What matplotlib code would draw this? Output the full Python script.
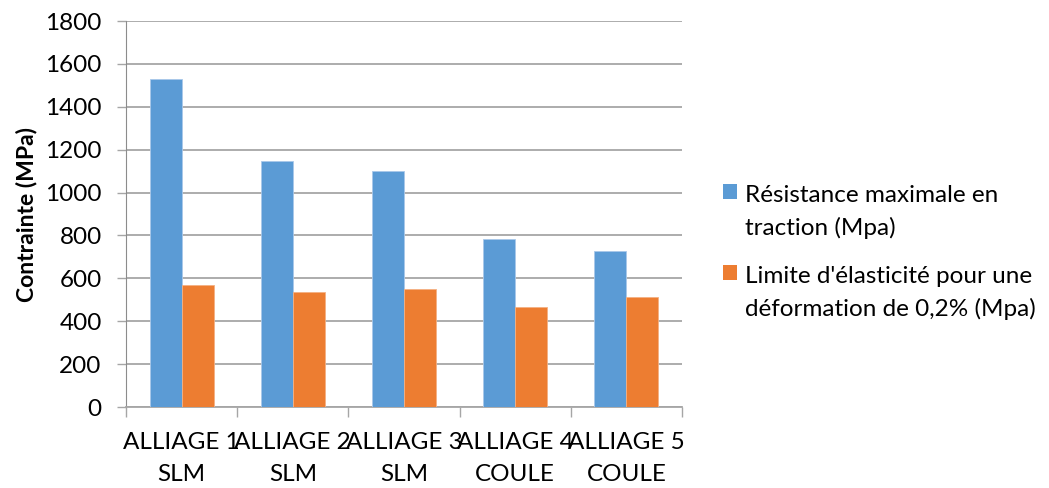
import matplotlib
matplotlib.use("Agg")
import matplotlib.pyplot as plt
import numpy as np
from matplotlib.patches import Patch, Rectangle
from matplotlib.legend_handler import HandlerPatch

categories = ["ALLIAGE 1\nSLM", "ALLIAGE 2\nSLM", "ALLIAGE 3\nSLM", "ALLIAGE 4\nCOULE", "ALLIAGE 5\nCOULE"]
resistance = [1531, 1146, 1099, 782, 727]
limite = [569, 536, 549, 465, 515]
series_labels = ["Résistance maximale en\ntraction (Mpa)",
                 "Limite d'élasticité pour une\ndéformation de 0,2% (Mpa)"]
y_ticks = [0, 200, 400, 600, 800, 1000, 1200, 1400, 1600, 1800]

plt.rcParams['font.family'] = ['Lato', 'DejaVu Sans']
FS = 17.5

fig = plt.figure(figsize=(10.49, 4.88), dpi=100)
ax = fig.add_axes([126/1049, 1-407/488, (682-126)/1049, (407-21)/488])

x = np.arange(len(categories))
w = 0.288
blue = "#5B9BD5"
orange = "#ED7D31"
ax.bar(x - w/2, resistance, w, color=blue, edgecolor="#A9C8EA", linewidth=0.6, zorder=3)
ax.bar(x + w/2, limite, w, color=orange, edgecolor="#F4B183", linewidth=0.6, zorder=3)

ax.set_xlim(-0.5, len(categories) - 0.5)
ax.set_ylim(0, 1800)
ax.set_yticks(y_ticks)
ax.set_yticklabels([str(v) for v in y_ticks], fontsize=FS)
ax.yaxis.grid(True, color="#A6A6A6", linewidth=1.3, zorder=0)
ax.tick_params(axis='y', length=6.5, width=1.0, color="#A6A6A6", pad=11)

ax.set_xticks(x)
ax.set_xticklabels(categories, fontsize=FS, linespacing=1.65)
ax.tick_params(axis='x', length=0, pad=18)
ax.set_xticks(np.arange(-0.5, len(categories)), minor=True)
ax.tick_params(axis='x', which='minor', length=7, width=1.0, color="#A6A6A6")

for s in ["top", "right"]:
    ax.spines[s].set_visible(False)
ax.spines["left"].set_color("#8C8C8C")
ax.spines["bottom"].set_color("#A6A6A6")
ax.spines["bottom"].set_linewidth(1.3)

ax.set_ylabel("Contrainte (MPa)", fontsize=16.5, fontweight="bold", labelpad=6)

SHIFT = 14.5  # points: lift the square to the first text line


def top_square(legend, orig_handle, xdescent, ydescent, width, height, fontsize):
    return Rectangle((-xdescent, -ydescent + SHIFT), width, height)


handles = [Patch(facecolor=blue), Patch(facecolor=orange)]
leg = fig.legend(handles, series_labels, loc="upper left", bbox_to_anchor=(713/1049, 1-175/488),
                 frameon=False, fontsize=FS, handlelength=0.6, handleheight=0.6,
                 handletextpad=0.33, labelspacing=1.11, borderaxespad=0,
                 handler_map={Patch: HandlerPatch(patch_func=top_square)})
for t in leg.get_texts():
    t.set_linespacing(1.6)

fig.savefig("out.png", dpi=100)
